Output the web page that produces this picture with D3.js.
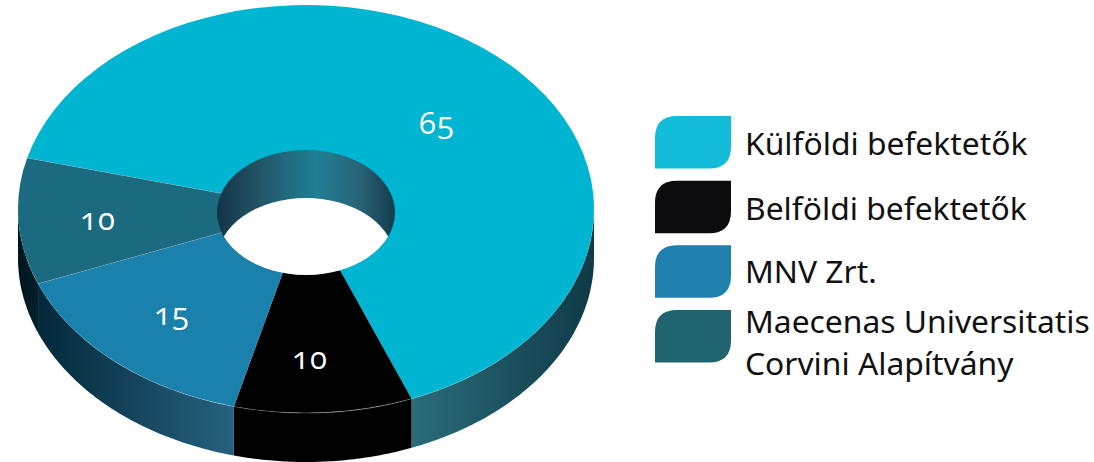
<!DOCTYPE html>
<html>
<head>
<meta charset="utf-8">
<script src="https://cdnjs.cloudflare.com/ajax/libs/d3/7.8.5/d3.min.js"></script>
<style>
html,body{margin:0;padding:0;background:#fff;}
svg{display:block;}
.legend-text{font-family:"Noto Sans",sans-serif;font-size:31.8px;fill:#111;}
.value{font-family:"Open Sans",sans-serif;font-size:31px;letter-spacing:1px;fill:#fff;text-anchor:middle;font-variant-numeric:oldstyle-nums;font-feature-settings:"onum" 1;}
</style>
</head>
<body>
<svg id="chart" width="1094" height="462"></svg>
<script>
// Ownership shares, in percent
const categories = ["Külföldi befektetők", "Belföldi befektetők", "MNV Zrt.", "Maecenas Universitatis Corvini Alapítvány"];
const shares = [65, 10, 15, 10];
const faceColors = ["#00b5d1", "#000000", "#1a80ac", "#1c6a80"];
const swatchColors = ["#13bdd9", "#0b0a0c", "#1f80ad", "#20646f"];
const wallStops = [
  ["#2b6c7a", "#0f3a47"],
  ["#000000", "#000000"],
  ["#03293a", "#26617f"],
  ["#02141c", "#03202c"]
];
const legendLines = [["Külföldi befektetők"], ["Belföldi befektetők"], ["MNV Zrt."], ["Maecenas Universitatis", "Corvini Alapítvány"]];

// Disc geometry
const cx = 306, cy = 209, rx = 288, ry = 204, depth = 49;
const holeCy = 212.5, holeRx = 89, holeRy = 62.5;
const deg = Math.PI / 180;
const startAngle = 284.5 * deg;

const svg = d3.select("#chart");
const defs = svg.append("defs");

const pie = d3.pie().sort(null).startAngle(startAngle).endAngle(startAngle + 2 * Math.PI);
const slices = pie(shares);

const rimPoint = (a, dy) => [cx + rx * Math.sin(a), cy - ry * Math.cos(a) + dy];

// Only the near half of the rim is visible
const nearFrom = 450 * deg, nearTo = 630 * deg;

slices.forEach((s, i) => {
  const a0 = Math.max(s.startAngle, nearFrom), a1 = Math.min(s.endAngle, nearTo);
  const [xa] = rimPoint(a0, 0), [xb] = rimPoint(a1, 0);
  const g = defs.append("linearGradient").attr("id", "wall" + i)
    .attr("gradientUnits", "userSpaceOnUse")
    .attr("x1", Math.min(xa, xb)).attr("x2", Math.max(xa, xb)).attr("y1", 0).attr("y2", 0);
  g.append("stop").attr("offset", 0).attr("stop-color", wallStops[i][0]);
  g.append("stop").attr("offset", 1).attr("stop-color", wallStops[i][1]);
});

// Outer wall, one band per slice
const line = d3.line();
slices.forEach((s, i) => {
  const a0 = Math.max(s.startAngle, nearFrom), a1 = Math.min(s.endAngle, nearTo);
  const steps = d3.range(0, 61).map(k => a0 + (a1 - a0) * k / 60);
  const pts = steps.map(a => rimPoint(a, 0)).concat(steps.slice().reverse().map(a => rimPoint(a, depth)));
  svg.append("path").attr("d", line(pts) + "Z").attr("fill", `url(#wall${i})`);
});

// Top face
const face = svg.append("g").attr("transform", `translate(${cx},${cy}) scale(1,${ry / rx})`);
const arc = d3.arc().innerRadius(0).outerRadius(rx);
face.selectAll("path").data(slices).join("path")
  .attr("d", arc)
  .attr("fill", (d, i) => faceColors[i]);

// Faint seams around the Maecenas slice
[slices[3].startAngle, slices[3].endAngle].forEach(a => {
  svg.append("path").attr("d", line([[cx, cy], rimPoint(a, 0)]))
    .attr("stroke", "#fff").attr("stroke-opacity", 0.14).attr("fill", "none");
});

// Soft highlight along the near edge of the top face
const rimGlow = defs.append("linearGradient").attr("id", "rimGlow")
  .attr("gradientUnits", "userSpaceOnUse")
  .attr("x1", cx - rx).attr("x2", cx + rx).attr("y1", 0).attr("y2", 0);
[[0, 0.02], [0.4, 0.15], [0.58, 0.28], [0.7, 0.12], [1, 0.03]]
  .forEach(([o, v]) => rimGlow.append("stop").attr("offset", o).attr("stop-color", "#fff").attr("stop-opacity", v));
const rimAngles = d3.range(0, 121).map(k => nearFrom + (nearTo - nearFrom) * k / 120);
svg.append("path").attr("d", line(rimAngles.map(a => rimPoint(a, 0))))
  .attr("fill", "none").attr("stroke", "url(#rimGlow)").attr("stroke-width", 1.2);

// Hole: shaded inner wall with the background showing through below it
const holeShade = defs.append("linearGradient").attr("id", "holeShade")
  .attr("gradientUnits", "userSpaceOnUse")
  .attr("x1", cx - holeRx).attr("x2", cx + holeRx).attr("y1", 0).attr("y2", 0);
[[0, "#123546"], [0.25, "#235668"], [0.56, "#1f8096"], [0.8, "#286274"], [1, "#123e4e"]]
  .forEach(([o, c]) => holeShade.append("stop").attr("offset", o).attr("stop-color", c));

defs.append("clipPath").attr("id", "holeClip").append("ellipse")
  .attr("cx", cx).attr("cy", holeCy).attr("rx", holeRx).attr("ry", holeRy);
svg.append("ellipse").attr("cx", cx).attr("cy", holeCy).attr("rx", holeRx).attr("ry", holeRy)
  .attr("fill", "url(#holeShade)");
svg.append("ellipse").attr("cx", cx).attr("cy", holeCy + depth - 1).attr("rx", holeRx).attr("ry", holeRy)
  .attr("fill", "#fff").attr("clip-path", "url(#holeClip)");

// Value labels
const labelAnchors = [[437, 134], [98, 230], [172, 325], [310, 369]];
svg.selectAll("text.value").data(shares).join("text")
  .attr("class", "value")
  .attr("x", (d, i) => labelAnchors[i][0])
  .attr("y", (d, i) => labelAnchors[i][1])
  .text(d => d);

// Legend swatches have two rounded corners: top-left and bottom-right
const swatchX = 655, swatchW = 76, swatchH = 52.5, corner = 22;
const swatchY = d3.scalePoint().domain(d3.range(4)).range([116, 310]);
function swatchPath(x, y) {
  const p = d3.path();
  p.moveTo(x + corner, y);
  p.lineTo(x + swatchW, y);
  p.lineTo(x + swatchW, y + swatchH - corner);
  p.quadraticCurveTo(x + swatchW, y + swatchH, x + swatchW - corner, y + swatchH);
  p.lineTo(x, y + swatchH);
  p.lineTo(x, y + corner);
  p.quadraticCurveTo(x, y, x + corner, y);
  p.closePath();
  return p.toString();
}
categories.forEach((c, i) => {
  svg.append("path").attr("d", swatchPath(swatchX, swatchY(i))).attr("fill", swatchColors[i]);
});

const textBaselines = [[155], [220], [283], [333, 375]];
legendLines.forEach((lines, i) => {
  lines.forEach((t, j) => {
    svg.append("text").attr("class", "legend-text")
      .attr("x", 745).attr("y", textBaselines[i][j]).text(t);
  });
});
</script>
</body>
</html>
